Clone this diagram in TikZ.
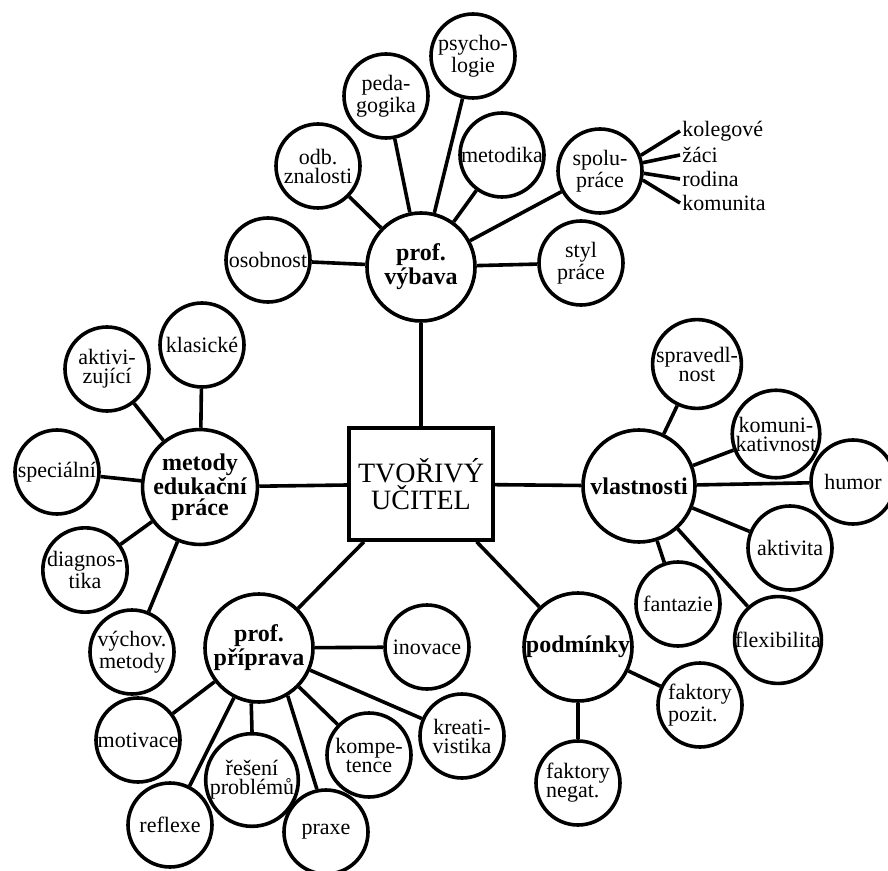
\documentclass[tikz,border=0pt]{standalone}
\usepackage{fontspec}
\setmainfont{Liberation Serif}
\usepackage{tikz}
\usetikzlibrary{positioning}

\begin{document}
\begin{tikzpicture}[x=0.5pt, y=-0.5pt,
    leaf/.style={circle, draw, line width=1.8pt, minimum size=42pt, inner sep=0pt,
      align=center, font=\fontsize{11}{9.5}\selectfont},
    hub/.style={leaf, minimum size=54pt, font=\fontsize{12}{10.5}\selectfont\bfseries},
    link/.style={line width=1.8pt},
    tag/.style={inner sep=1pt, anchor=west, font=\fontsize{11}{12}\selectfont}]
  \useasboundingbox (0,0) rectangle (888,871);

  % centre
  \node[draw, line width=1.8pt, minimum width=72pt, minimum height=56pt, align=center,
    font=\fontsize{14}{13.5}\selectfont] (core) at (421,484) {TVOŘIVÝ\\UČITEL};

  % prof. vybava
  \node[hub] (vybava) at (421,267) {prof.\\výbava};
  \node[leaf] (osobnost) at (268,260) {osobnost};
  \node[leaf] (odb) at (318,166) {odb.\\znalosti};
  \node[leaf] (pedag) at (386,96) {peda-\\gogika};
  \node[leaf] (psych) at (473,56) {psycho-\\logie};
  \node[leaf] (metodika) at (502,155) {metodika};
  \node[leaf] (spolu) at (600,171) {spolu-\\práce};
  \node[leaf] (styl) at (581,263) {styl\\práce};
  \node[tag] (kolegove) at (680,131) {kolegové};
  \node[tag] (zaci) at (680,155) {žáci};
  \node[tag] (rodina) at (680,179) {rodina};
  \node[tag] (komunita) at (680,203) {komunita};

  % metody
  \node[hub] (metody) at (200,487) {metody\\edukační\\práce};
  \node[leaf] (klasicke) at (202,345) {klasické};
  \node[leaf] (aktiv) at (107,369) {aktivi-\\zující};
  \node[leaf] (special) at (57,472) {speciální};
  \node[leaf] (diagn) at (85,570) {diagnos-\\tika};
  \node[leaf] (vychov) at (132,652) {výchov.\\metody};

  % prof. priprava
  \node[hub] (priprava) at (259,648) {prof.\\příprava};
  \node[leaf] (inovace) at (427,647) {inovace};
  \node[leaf] (motivace) at (138,740) {motivace};
  \node[leaf] (reseni) at (252,780) {řešení\\problémů};
  \node[leaf] (reflexe) at (170,825) {reflexe};
  \node[leaf] (praxe) at (326,832) {praxe};
  \node[leaf] (kompet) at (369,755) {kompe-\\tence};
  \node[leaf] (kreat) at (462,736) {kreati-\\vistika};

  % podminky
  \node[hub] (podminky) at (578,647) {podmínky};
  \node[leaf, align=left] (pozit) at (700,705) {faktory\\pozit.};
  \node[leaf, align=left] (negat) at (578,783) {faktory\\negat.};

  % vlastnosti
  \node[hub, minimum size=56pt] (vlast) at (639,486) {vlastnosti};
  \node[leaf] (sprav) at (697,364) {spravedl-\\nost};
  \node[leaf] (komun) at (776,434) {komuni-\\kativnost};
  \node[leaf] (humor) at (853,482) {humor};
  \node[leaf] (aktivita) at (790,548) {aktivita};
  \node[leaf] (fantazie) at (678,604) {fantazie};
  \node[leaf] (flexib) at (778,640) {flexibilita};

  % connectors
  \foreach \n in {vybava,metody,priprava,podminky,vlast}
    \draw[link] (core) -- (\n);
  \foreach \n in {osobnost,odb,pedag,psych,metodika,spolu,styl}
    \draw[link] (vybava) -- (\n);
  \draw[link] (spolu.21) -- (kolegove.west);
  \draw[link] (spolu.11) -- (zaci.west);
  \draw[link] (spolu.-3) -- (rodina.west);
  \draw[link] (spolu.-12) -- (komunita.west);
  \foreach \n in {klasicke,aktiv,special,diagn,vychov}
    \draw[link] (metody) -- (\n);
  \foreach \n in {inovace,motivace,reflexe,kompet,kreat}
    \draw[link] (priprava) -- (\n);
  \draw[link] (priprava.-98) -- (reseni.north);
  \draw[link] (priprava.-59) -- (praxe.102);
  \foreach \n in {pozit,negat}
    \draw[link] (podminky) -- (\n);
  \foreach \n in {sprav,komun,humor,aktivita,fantazie,flexib}
    \draw[link] (vlast) -- (\n);
\end{tikzpicture}
\end{document}
